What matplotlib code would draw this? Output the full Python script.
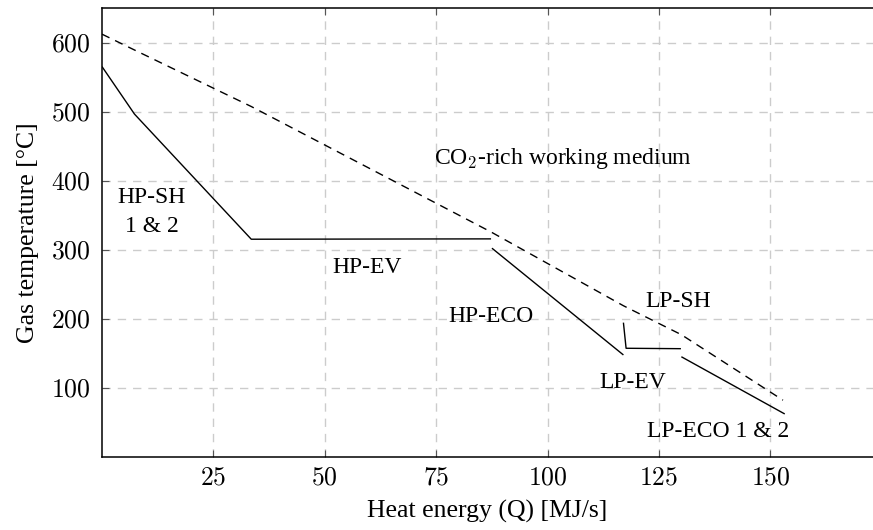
import matplotlib
matplotlib.use("Agg")
import matplotlib.pyplot as plt
from matplotlib.ticker import FuncFormatter

plt.rcParams["mathtext.fontset"] = "cm"
plt.rcParams["font.family"] = ["Liberation Serif", "DejaVu Serif"]

# Flue gas side, drawn per heat exchanger section (Q in MJ/s, T in degC)
hp_sh_q = [0.0, 7.3, 33.5, 87.3]
hp_sh_t = [566, 497, 315.5, 316]
hp_eco_q = [87.5, 117.0]
hp_eco_t = [302.5, 147.6]
lp_ev_q = [117.0, 117.6, 129.9]
lp_ev_t = [194.5, 157.3, 156.7]
lp_eco_q = [130.0, 153.2]
lp_eco_t = [145, 62]

# CO2-rich working medium
medium_q = [0.0, 7.3, 33.5, 87.3, 117.0, 130.0, 152.8]
medium_t = [613, 590, 508, 326, 219, 177, 82]

labels = ["HP-SH\n1 & 2", "HP-EV", "CO$_2$-rich working medium", "HP-ECO",
          "LP-SH", "LP-EV", "LP-ECO 1 & 2"]
label_q = [11.2, 59.5, 103.4, 87.3, 129.3, 119.2, 138.3]
label_t = [355, 274, 433, 203, 225, 108, 36]

x_ticks = [25, 50, 75, 100, 125, 150]
y_ticks = [100, 200, 300, 400, 500, 600]

fig = plt.figure(figsize=(8.73, 5.30), dpi=100)
ax = fig.add_axes([0.1168, 0.1383, 0.8832, 0.8467])

for q, t in [(hp_sh_q, hp_sh_t), (hp_eco_q, hp_eco_t),
             (lp_ev_q, lp_ev_t), (lp_eco_q, lp_eco_t)]:
    ax.plot(q, t, color="black", lw=1.0, solid_capstyle="butt")
ax.plot(medium_q, medium_t, color="black", lw=1.0, dashes=(6, 4.5))

for txt, q, t in zip(labels, label_q, label_t):
    ax.text(q, t, txt, ha="center", va="center", fontsize=17,
            linespacing=1.45)

ax.set_xlim(0, 173)
ax.set_ylim(0, 651)
ax.set_xticks(x_ticks)
ax.set_yticks(y_ticks)
fmt = FuncFormatter(lambda v, pos: f"${v:g}$")
ax.xaxis.set_major_formatter(fmt)
ax.yaxis.set_major_formatter(fmt)
ax.tick_params(direction="in", length=5, width=0.8, color="#555555",
               labelsize=18.5, top=True, pad=8)
ax.grid(True, color="#cccccc", linestyle=(0, (6, 5)), lw=1.0)
ax.set_axisbelow(True)

for side in ["left", "bottom", "top"]:
    ax.spines[side].set_linewidth(1.1)
ax.spines["right"].set_visible(False)

ax.set_xlabel("Heat energy (Q) [MJ/s]", fontsize=18.5, labelpad=7)
ax.set_ylabel("Gas temperature [°C]", fontsize=18.5, labelpad=9)

fig.savefig("out.png", dpi=100)
